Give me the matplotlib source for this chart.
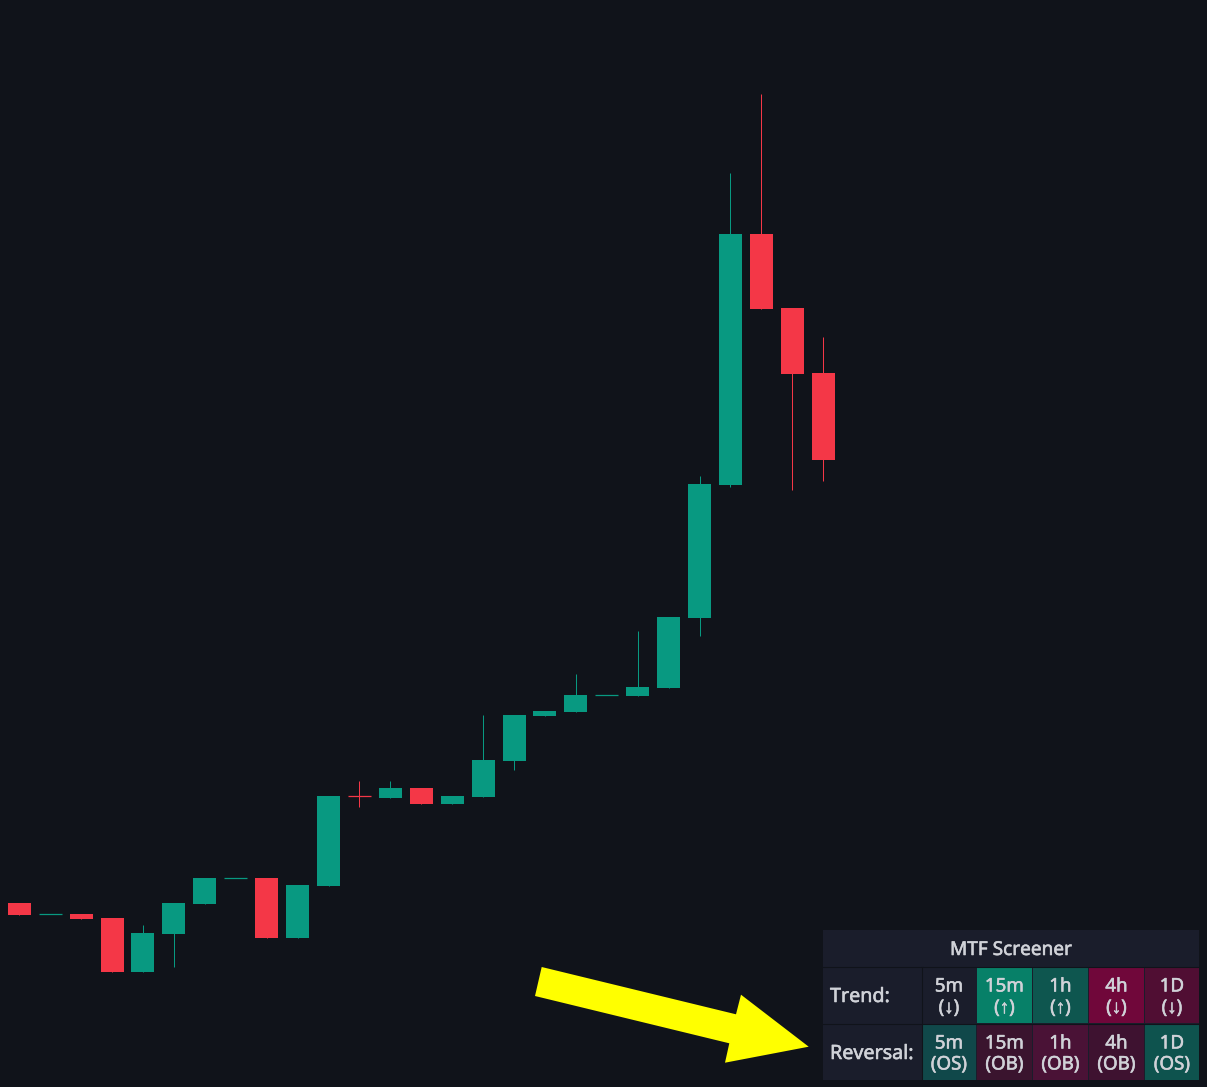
# -*-coding:utf-8-*-
import matplotlib
matplotlib.use('Agg')
from matplotlib import pyplot as plt
from matplotlib import patheffects as pe
from matplotlib.patches import Polygon, Rectangle

# ohlc (price scale = px from bottom of image)
opens = [184, 173, 173, 169, 115, 153, 183, 209, 209, 149, 201, 291.2, 289, 299, 283, 290, 326, 371, 375, 392, 391, 399, 469, 602, 853, 779, 714]
closes = [172, 173, 168, 115, 154, 184, 209, 209, 149, 202, 291, 290.8, 299, 283, 291, 327, 372, 376, 392, 392, 400, 470, 603, 853, 778, 713, 627]
highs = [184, 173, 173, 169, 162, 184, 209, 209, 209, 202, 291, 306, 306, 299, 291, 372, 372, 376, 413, 392, 456, 470, 611, 914, 993, 779, 750]
lows = [172, 173, 168, 115, 115, 120, 183, 209, 149, 149, 201, 280, 289, 283, 283, 290, 317, 371, 375, 392, 391, 399, 451, 600, 778, 597, 606]

# table
title = 'MTF Screener'
row_names = ['Trend:', 'Reversal:']
tf = ['5m', '15m', '1h', '4h', '1D']
trend_state = ['↓', '↑', '↑', '↓', '↓']
rev_state = ['OS', 'OB', 'OB', 'OB', 'OS']
trend_colors = ['#1a1d2b', '#078068', '#0e564f', '#70073a', '#500e33']
rev_colors = ['#10484a', '#3a142e', '#4a1236', '#3e1230', '#0e534e']

bg = '#10131a'
green = '#089981'
red = '#f43747'
panel = '#1a1d2b'
txt = '#d0d2d8'
plt.rcParams['font.family'] = ['Noto Sans', 'Liberation Sans', 'DejaVu Sans']

fig = plt.figure(figsize=(12.07, 10.87), dpi=100, facecolor=bg)
ax = fig.add_axes([0, 0, 1, 1], facecolor=bg)
step = 30.92
ax.set_xlim(-19.3 / step, (1207 - 19.3) / step)
ax.set_ylim(0, 1087)
ax.axis('off')

for i in range(len(opens)):
    c = green if closes[i] >= opens[i] else red
    ax.plot([i, i], [lows[i], highs[i]], color=c, lw=0.72, solid_capstyle='butt', zorder=2)
    h = abs(closes[i] - opens[i])
    if h < 1:
        ax.plot([i - 0.37, i + 0.37], [opens[i], opens[i]], color=c, lw=0.9, solid_capstyle='butt', zorder=3)
    else:
        ax.bar(i, h, bottom=min(opens[i], closes[i]), width=23 / step, color=c, lw=0, zorder=3)

# overlay in pixel coords for the screener and arrow
ov = fig.add_axes([0, 0, 1, 1], facecolor='none')
ov.set_xlim(0, 1207)
ov.set_ylim(1087, 0)
ov.axis('off')

ov.add_patch(Polygon([(541.7, 967), (736, 1014.3), (741, 994.7), (808.7, 1046.7), (725, 1062.7), (729.3, 1043.3), (535, 996)],
                     closed=True, fc='#ffff00', ec='none'))

ov.add_patch(Rectangle((823, 930), 376, 150, fc=panel, ec='none'))
col_l = [922, 977, 1033, 1089, 1145]
col_r = [976, 1032, 1088, 1144, 1199]
ov.plot([823, 1199], [966.5, 966.5], color=bg, lw=0.8)
ov.plot([823, 1199], [1023.5, 1023.5], color=bg, lw=0.8)
ov.plot([921.5, 921.5], [967, 1080], color=bg, lw=0.8)

bold = [pe.withStroke(linewidth=0.4, foreground=txt)]
def label(x, y, s, size, ha='center'):
    ov.text(x, y, s, color=txt, fontsize=size, ha=ha, va='center', path_effects=bold)

label(1011, 950, title, 13.7)
label(830, 997, row_names[0], 14.2, ha='left')
label(830, 1054, row_names[1], 14.2, ha='left')
for j in range(5):
    w = col_r[j] - col_l[j]
    xc = (col_l[j] + col_r[j]) / 2
    ov.add_patch(Rectangle((col_l[j], 966.6), w, 56.4, fc=trend_colors[j], ec='none'))
    ov.add_patch(Rectangle((col_l[j], 1023.6), w, 56.4, fc=rev_colors[j], ec='none'))
    label(xc, 986.5, tf[j], 13.5)
    label(xc, 1008, '(%s)' % trend_state[j], 13.5)
    label(xc, 1043.5, tf[j], 13.5)
    label(xc, 1064.5, '(%s)' % rev_state[j], 13.5)

fig.savefig('out.png', dpi=100, facecolor=bg)
